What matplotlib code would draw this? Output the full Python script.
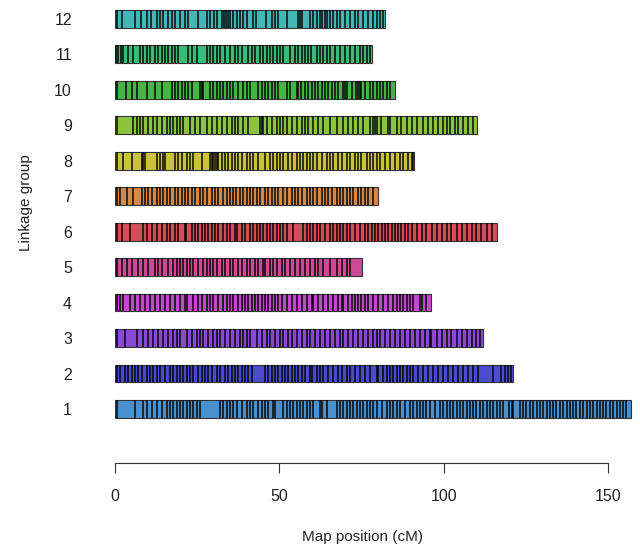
import matplotlib
matplotlib.use("Agg")
import matplotlib.pyplot as plt

plt.rcParams["font.family"] = ["Liberation Sans", "DejaVu Sans"]

# linkage groups, lengths (cM) and bar colours
groups = [1, 2, 3, 4, 5, 6, 7, 8, 9, 10, 11, 12]
lengths = [157, 121, 112, 96, 75, 116, 80, 91, 110, 85, 78, 82]
colors = ["#4a90cc", "#4a4ccc", "#8a4ad4", "#c04acc", "#cc4a94", "#d44c5a",
          "#d38a48", "#c8c23c", "#8cc43f", "#45b545", "#3dba7a", "#45b5b5"]

# marker positions (cM)
lg1 = [0.5, 6.1, 8.6, 9.6, 11.1, 12.7, 14.2, 15.7, 16.7, 17.7, 18.7, 19.8, 20.8,
       21.8, 22.8, 23.8, 24.8, 25.8, 31.9, 32.9, 33.9, 35.0, 36.0, 37.0, 38.5,
       40.0, 41.0, 42.0, 43.6, 44.6, 45.6, 46.6, 48.1, 48.6, 51.2, 52.2, 53.2,
       54.2, 55.2, 56.2, 57.2, 58.3, 59.3, 60.3, 62.3, 62.8, 64.3, 67.4, 68.4,
       69.4, 70.4, 71.4, 72.4, 73.5, 74.5, 75.5, 76.5, 77.5, 78.5, 79.5, 81.1,
       82.6, 83.6, 84.6, 85.6, 86.6, 88.1, 89.7, 90.7, 91.7, 92.7, 93.7, 94.7,
       95.7, 97.3, 98.8, 99.8, 100.8, 101.8, 102.8, 103.9, 104.9, 105.9, 106.9,
       107.9, 108.9, 109.9, 110.9, 112.0, 113.0, 114.0, 115.0, 116.0, 117.0,
       118.0, 119.8, 120.6, 121.1, 123.1, 124.1, 125.1, 126.1, 127.2, 128.2,
       129.2, 130.2, 131.2, 132.2, 133.2, 134.2, 135.3, 136.3, 137.3, 138.3,
       139.3, 140.3, 141.3, 142.4, 143.4, 144.4, 145.4, 146.4, 147.4, 148.4,
       149.4, 150.5, 151.5, 152.5, 153.5, 154.5, 155.5]
lg2 = [0.5, 1.5, 3.0, 4.1, 5.1, 6.1, 7.1, 8.1, 9.6, 10.6, 11.7, 12.7, 13.7, 15.2,
       16.7, 17.7, 18.7, 19.7, 20.8, 21.8, 22.8, 23.8, 25.3, 26.3, 27.4, 28.4,
       29.4, 30.9, 31.9, 33.4, 34.4, 35.5, 36.5, 37.5, 38.5, 39.5, 40.5, 41.5,
       45.6, 46.6, 47.6, 48.6, 49.6, 50.7, 51.7, 52.7, 53.7, 54.7, 55.7, 56.7,
       57.8, 59.3, 59.8, 61.3, 62.3, 63.3, 64.8, 66.4, 67.9, 68.9, 70.4, 71.4,
       72.9, 74.5, 76.0, 77.5, 79.5, 80.0, 81.6, 82.6, 83.6, 84.6, 85.6, 86.6,
       87.6, 88.7, 89.7, 90.7, 92.2, 93.7, 95.2, 96.8, 98.3, 99.8, 101.3, 102.8,
       104.4, 105.9, 107.4, 108.9, 110.4, 115.0, 117.5, 118.5, 119.5, 120.5]
lg3 = [0.5, 3.0, 6.6, 8.6, 10.1, 11.6, 13.2, 14.7, 16.2, 17.7, 18.7, 19.7, 21.8,
       23.3, 24.8, 25.8, 26.8, 28.4, 29.9, 30.9, 31.9, 33.4, 35.0, 36.5, 38.0,
       39.0, 40.0, 41.0, 43.1, 44.6, 46.1, 47.1, 48.6, 50.2, 51.2, 52.7, 53.7,
       55.2, 56.7, 58.3, 59.3, 60.8, 62.3, 63.8, 65.3, 66.9, 68.4, 69.4, 70.9,
       72.4, 73.9, 75.5, 77.0, 78.5, 79.5, 80.5, 82.1, 83.6, 85.1, 86.6, 88.1,
       89.7, 91.2, 92.7, 94.2, 95.7, 96.2, 97.8, 99.3, 100.8, 102.3, 103.9,
       105.4, 106.9, 108.4, 109.9, 110.9]
lg4 = [0.5, 1.5, 2.5, 4.6, 6.1, 7.6, 9.1, 10.6, 12.2, 13.7, 15.2, 16.7, 18.2,
       19.7, 21.3, 21.8, 23.8, 25.3, 26.3, 27.9, 28.9, 29.9, 31.4, 32.9, 33.9,
       34.9, 35.9, 37.5, 38.5, 39.5, 40.5, 41.5, 42.6, 43.6, 44.6, 45.6, 46.6,
       47.6, 48.6, 49.6, 50.7, 52.2, 53.7, 55.2, 56.7, 58.3, 59.8, 60.3, 61.8,
       63.3, 64.8, 66.4, 67.9, 68.9, 69.4, 70.9, 71.9, 72.9, 73.9, 74.9, 76.0,
       77.0, 78.5, 80.0, 81.6, 83.1, 84.6, 85.6, 86.6, 87.6, 88.7, 89.7, 90.7,
       92.7, 93.2, 94.7]
lg5 = [0.5, 2.0, 3.5, 5.1, 7.1, 8.6, 10.1, 12.2, 13.2, 14.2, 16.2, 17.7, 18.7,
       19.7, 20.8, 21.8, 22.8, 23.8, 25.3, 26.8, 27.9, 28.9, 29.9, 30.9, 32.4,
       33.4, 34.9, 35.9, 37.5, 38.5, 40.0, 41.0, 42.6, 43.6, 45.1, 45.6, 47.1,
       48.1, 49.1, 50.7, 51.7, 53.2, 54.7, 56.2, 57.8, 59.3, 60.8, 61.8, 63.3,
       65.3, 67.4, 68.9, 70.4, 71.4]
lg6 = [0.5, 2.0, 4.6, 8.6, 9.6, 11.1, 12.7, 14.2, 15.7, 16.7, 18.2, 19.3, 21.3,
       21.6, 23.3, 24.3, 25.3, 26.3, 27.4, 28.4, 29.4, 30.4, 31.4, 32.9, 33.9,
       35.0, 36.5, 37.0, 38.5, 39.5, 41.0, 42.0, 43.1, 44.1, 45.1, 46.1, 47.1,
       48.1, 49.1, 50.2, 51.2, 52.2, 54.2, 57.2, 58.3, 59.3, 60.3, 61.3, 62.3,
       63.8, 65.3, 66.4, 67.4, 68.4, 69.4, 70.4, 71.4, 72.9, 74.5, 76.0, 77.0,
       78.0, 79.0, 80.0, 81.1, 82.1, 83.1, 84.1, 85.1, 86.1, 87.1, 88.1, 89.2,
       90.2, 91.7, 93.2, 94.7, 96.3, 97.8, 99.3, 100.8, 102.3, 103.9, 105.4,
       106.9, 108.4, 109.9, 111.4, 113.0, 114.5]
lg7 = [0.5, 1.5, 3.5, 5.6, 8.1, 9.1, 10.1, 11.1, 12.7, 13.7, 14.7, 15.7, 16.7,
       18.2, 19.3, 20.3, 21.3, 22.3, 23.3, 24.3, 25.8, 26.8, 27.9, 29.4, 30.4,
       31.4, 32.9, 33.9, 34.9, 35.9, 36.9, 38.0, 39.0, 40.0, 41.0, 42.0, 43.1,
       44.1, 45.6, 46.6, 47.6, 48.6, 49.6, 51.2, 52.2, 53.7, 54.7, 55.7, 56.7,
       58.3, 59.3, 60.3, 61.3, 62.8, 63.8, 64.8, 65.9, 67.4, 68.4, 69.4, 70.4,
       71.4, 72.4, 73.9, 74.9, 75.9, 77.0, 78.5]
lg8 = [0.5, 2.5, 5.1, 8.1, 8.6, 9.1, 12.7, 13.7, 14.7, 15.2, 18.2, 19.3, 20.3,
       21.8, 22.8, 23.8, 26.3, 28.9, 29.4, 29.9, 30.4, 30.9, 31.4, 32.4, 33.4,
       34.4, 35.5, 36.5, 37.5, 38.5, 40.0, 41.0, 42.0, 43.6, 45.6, 47.1, 48.1,
       49.1, 50.2, 51.2, 52.7, 53.7, 55.2, 56.2, 57.2, 58.3, 59.3, 60.3, 61.3,
       62.8, 64.3, 65.3, 66.4, 67.9, 68.9, 70.4, 71.4, 72.9, 73.9, 74.9, 76.5,
       77.5, 78.5, 79.5, 80.5, 82.1, 83.6, 85.1, 86.6, 87.6, 89.2, 90.2, 90.7]
lg9 = [0.5, 5.6, 6.6, 7.6, 8.6, 10.1, 11.6, 12.7, 14.2, 15.7, 16.7, 17.7, 18.7,
       19.7, 20.8, 22.8, 24.3, 25.8, 27.9, 29.4, 30.9, 32.4, 33.9, 35.5, 36.5,
       37.5, 39.0, 40.5, 44.1, 44.6, 45.1, 46.1, 47.6, 49.1, 50.2, 51.2, 52.2,
       53.7, 55.2, 56.7, 57.8, 58.8, 60.3, 61.8, 63.3, 65.3, 67.4, 69.4, 70.9,
       72.4, 73.9, 75.5, 77.5, 78.5, 79.1, 79.5, 81.0, 83.1, 83.6, 85.6, 87.1,
       88.7, 90.2, 91.7, 93.7, 95.2, 96.8, 98.3, 99.8, 100.8, 101.8, 103.3,
       104.4, 105.9, 107.4, 108.9]
lg10 = [0.5, 3.3, 5.1, 6.8, 9.6, 12.2, 14.2, 17.2, 18.2, 19.2, 20.3, 21.3, 22.3,
        23.3, 25.8, 26.3, 26.8, 28.9, 29.9, 30.9, 31.9, 32.9, 33.9, 34.9, 35.9,
        37.5, 39.0, 40.0, 41.0, 43.6, 44.6, 45.6, 46.6, 47.6, 48.6, 49.6, 52.2,
        53.2, 55.2, 55.7, 56.5, 57.7, 58.8, 59.8, 60.8, 61.8, 62.8, 63.8, 64.8,
        65.9, 66.9, 67.9, 69.4, 69.9, 70.4, 71.9, 73.4, 73.9, 74.4, 74.9, 76.0,
        77.5, 78.5, 79.5, 80.5, 81.5, 82.6, 83.6]
lg11 = [0.3, 1.0, 1.8, 2.5, 4.1, 5.6, 7.6, 8.6, 9.6, 10.6, 12.2, 13.2, 14.2,
        15.2, 16.2, 17.2, 18.2, 19.3, 22.3, 23.3, 24.8, 27.9, 28.9, 29.9, 30.9,
        31.9, 33.4, 34.9, 36.5, 37.5, 38.5, 40.5, 41.5, 42.5, 44.0, 45.0, 46.1,
        47.1, 48.1, 49.1, 50.1, 51.1, 53.2, 54.7, 55.7, 56.7, 57.7, 58.7, 59.7,
        61.3, 62.3, 63.3, 64.3, 65.3, 66.9, 68.4, 69.9, 71.4, 72.9, 74.4, 75.5,
        76.5, 77.5]
lg12 = [0.7, 2.0, 6.0, 8.0, 9.6, 11.0, 12.7, 13.7, 14.7, 16.2, 17.2, 18.2, 19.8,
        21.3, 22.3, 25.3, 28.0, 29.0, 30.0, 31.0, 32.4, 33.2, 33.8, 34.4, 35.0,
        36.0, 37.0, 38.0, 39.0, 40.0, 42.0, 43.0, 46.0, 47.6, 48.6, 49.6, 52.2,
        55.6, 56.2, 56.8, 59.3, 60.3, 61.3, 62.3, 63.0, 63.8, 64.5, 65.4, 66.4,
        67.4, 68.4, 70.0, 71.4, 73.0, 74.0, 75.5, 77.0, 78.5, 79.5, 80.5, 81.5]
markers = [lg1, lg2, lg3, lg4, lg5, lg6, lg7, lg8, lg9, lg10, lg11, lg12]

xticks = [0, 50, 100, 150]

fig = plt.figure(figsize=(6.4, 5.47), dpi=100)
ax = fig.add_axes([115 / 640, 84 / 547, 523 / 640, 462 / 547])

bar_h = 0.5
ax.barh(groups, lengths, height=bar_h, left=0, color=colors,
        edgecolor="#333333", linewidth=0.8, zorder=1)
for g, pos in zip(groups, markers):
    ax.vlines(pos, g - bar_h / 2, g + bar_h / 2, color="black",
              linewidth=1.3, alpha=0.8, zorder=2)

ax.set_xlim(0, 159)
ax.set_ylim(-0.52, 12.5)

for side in ["top", "right", "left"]:
    ax.spines[side].set_visible(False)
ax.spines["bottom"].set_bounds(0, 150)
ax.spines["bottom"].set_color("#333333")

ax.set_xticks(xticks)
ax.set_xticklabels([str(t) for t in xticks])
ax.tick_params(axis="x", length=7, width=0.8, color="#333333", pad=12,
               labelsize=11.5, labelcolor="#222222")
ax.set_yticks(groups)
ax.set_yticklabels([str(g) for g in groups])
ax.tick_params(axis="y", length=0, pad=31, labelsize=11.5, labelcolor="#222222")

fig.text(362 / 640, 1 - 537 / 547, "Map position (cM)", ha="center",
         va="center", fontsize=11, color="#222222")
fig.text(26 / 640, 1 - 203 / 547, "Linkage group", ha="center", va="center",
         rotation=90, fontsize=11, color="#222222")

fig.savefig("out.png", dpi=100)
